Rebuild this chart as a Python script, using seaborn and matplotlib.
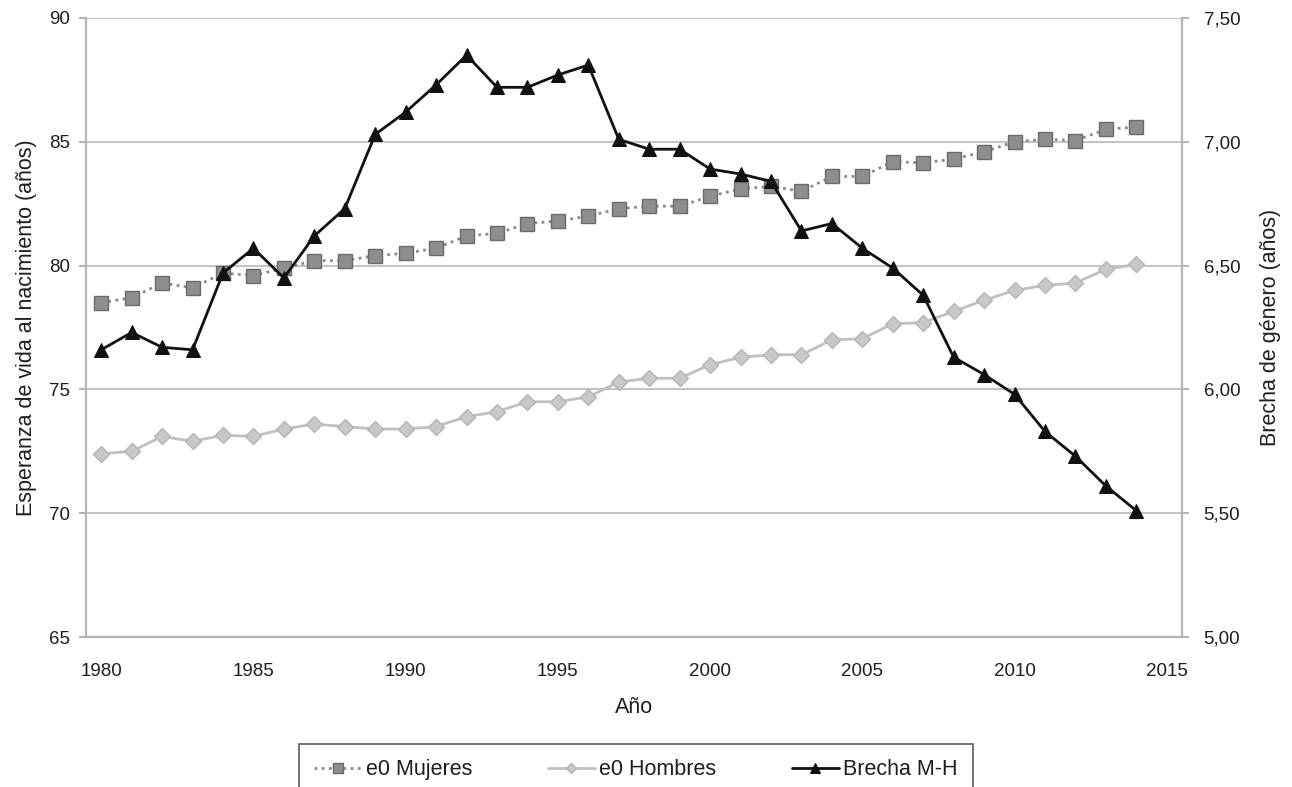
import numpy as np
import pandas as pd
import matplotlib
matplotlib.use('Agg')
import matplotlib.pyplot as plt
import seaborn as sns
from matplotlib.ticker import FuncFormatter, MultipleLocator

# Data
years = list(range(1980, 2015))
e0_mujeres = [78.5, 78.7, 79.3, 79.1, 79.7, 79.6, 79.9, 80.2, 80.2, 80.4,
              80.5, 80.7, 81.2, 81.3, 81.7, 81.8, 82.0, 82.3, 82.4, 82.4,
              82.8, 83.1, 83.2, 83.0, 83.6, 83.6, 84.2, 84.15, 84.3, 84.6,
              85.0, 85.1, 85.05, 85.5, 85.6]
e0_hombres = [72.4, 72.5, 73.1, 72.9, 73.15, 73.1, 73.4, 73.6, 73.5, 73.4,
              73.4, 73.5, 73.9, 74.1, 74.5, 74.5, 74.7, 75.3, 75.45, 75.45,
              76.0, 76.3, 76.4, 76.4, 77.0, 77.05, 77.65, 77.7, 78.15, 78.6,
              79.0, 79.2, 79.3, 79.85, 80.05]
brecha = [6.16, 6.23, 6.17, 6.16, 6.47, 6.57, 6.45, 6.62, 6.73, 7.03,
          7.12, 7.23, 7.35, 7.22, 7.22, 7.27, 7.31, 7.01, 6.97, 6.97,
          6.89, 6.87, 6.84, 6.64, 6.67, 6.57, 6.49, 6.38, 6.13, 6.06,
          5.98, 5.83, 5.73, 5.61, 5.51]
year_labels = [1980, 1985, 1990, 1995, 2000, 2005, 2010, 2015]

df = pd.DataFrame({'Año': years, 'Mujeres': e0_mujeres,
                   'Hombres': e0_hombres, 'Brecha': brecha})

sns.set_style('white')
plt.rcParams['font.family'] = ['Liberation Sans', 'DejaVu Sans']

fig = plt.figure(figsize=(12.92, 7.87), dpi=100)
ax = fig.add_axes([86 / 1292, 1 - 637 / 787, (1182 - 86) / 1292, (637 - 18) / 787])
ax2 = ax.twinx()

axis_col = '#b3b3b3'
grid_col = '#c4c4c4'
text_col = '#1e1e1e'

sns.lineplot(data=df, x='Año', y='Mujeres', ax=ax, color='#8a8a8a',
             linestyle=(0, (1, 1.6)), linewidth=2, marker='s', markersize=10,
             markerfacecolor='#8e8e8e', markeredgecolor='#6a6a6a',
             markeredgewidth=1, label='e0 Mujeres', legend=False)
sns.lineplot(data=df, x='Año', y='Hombres', ax=ax, color='#c0c0c0',
             linewidth=2, marker='D', markersize=8,
             markerfacecolor='#c8c8c8', markeredgecolor='#b5b5b5',
             markeredgewidth=1, label='e0 Hombres', legend=False)
sns.lineplot(data=df, x='Año', y='Brecha', ax=ax2, color='#111111',
             linewidth=2, marker='^', markersize=10,
             markerfacecolor='#111111', markeredgecolor='#111111',
             label='Brecha M-H', legend=False)

ax.set_xlim(1979.5, 2015.5)
ax.set_ylim(65, 90)
ax2.set_ylim(5.0, 7.5)
ax.yaxis.set_major_locator(MultipleLocator(5))
ax2.yaxis.set_major_locator(MultipleLocator(0.5))
ax2.yaxis.set_major_formatter(FuncFormatter(lambda v, p: f'{v:.2f}'.replace('.', ',')))

ax.set_xticks(year_labels)
ax.set_xticks(np.arange(1979.5, 2016, 1), minor=True)
ax.tick_params(axis='x', which='major', length=0, pad=19, labelsize=13.5, colors=text_col)
ax.tick_params(axis='x', which='minor', length=5, width=1.5, color=axis_col, direction='out')
ax.tick_params(axis='y', length=5, width=1.5, color=axis_col, labelsize=13.5,
               labelcolor=text_col, pad=6.5, left=True)
ax2.tick_params(axis='y', length=5, width=1.5, color=axis_col, labelsize=13.5,
                labelcolor=text_col, pad=10.5, right=True)

ax.grid(axis='y', color=grid_col, linewidth=1.5)
ax.grid(axis='x', visible=False)
ax2.grid(False)

for a in (ax, ax2):
    a.spines['top'].set_visible(False)
    for s in ('left', 'right', 'bottom'):
        a.spines[s].set_color(axis_col)
        a.spines[s].set_linewidth(1.5)

ax.set_xlabel('Año', fontsize=15.5, labelpad=12, color=text_col)
ax.set_ylabel('Esperanza de vida al nacimiento (años)', fontsize=15.5, labelpad=9, color=text_col)
ax2.set_ylabel('Brecha de género (años)', fontsize=15.5, labelpad=14, color=text_col)

handles = ax.get_lines()[:2] + ax2.get_lines()[:1]
labels = ['e0 Mujeres', 'e0 Hombres', 'Brecha M-H']
leg = fig.legend(handles, labels, loc='upper center', bbox_to_anchor=(636 / 1292, 1 - 744 / 787),
                 ncol=3, frameon=True, fancybox=False, edgecolor='#333333',
                 fontsize=15.5, handlelength=2.2, columnspacing=3.5, borderpad=0.7,
                 handletextpad=0.2, markerscale=0.7, borderaxespad=0)
leg.get_frame().set_linewidth(1.2)
for t in leg.get_texts():
    t.set_color(text_col)

fig.savefig('out.png', dpi=100)
